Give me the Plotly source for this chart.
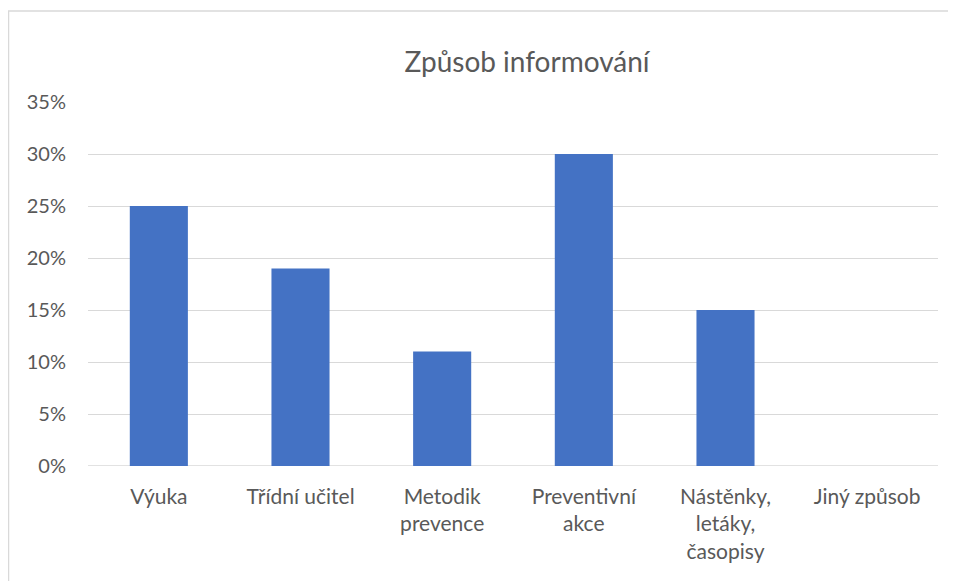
import plotly.graph_objects as go

categories = ["Výuka", "Třídní učitel", "Metodik<br>prevence", "Preventivní<br>akce",
              "Nástěnky,<br>letáky,<br>časopisy", "Jiný způsob"]
shares = [0.25, 0.19, 0.11, 0.30, 0.15, 0.0]
y_ticks = [0, 0.05, 0.10, 0.15, 0.20, 0.25, 0.30, 0.35]

text_grey = "#595959"
font_family = "Lato, 'Open Sans', sans-serif"

# the page body adds 8px, so the plot box is set 8px up and left of the target
fig = go.Figure(go.Bar(
    x=categories,
    y=shares,
    marker=dict(color="#4472C4", line=dict(width=0)),
    width=0.41,
))

fig.update_layout(
    width=956,
    height=581,
    margin=dict(l=80, r=26, t=94, b=123),
    plot_bgcolor="white",
    paper_bgcolor="white",
    showlegend=False,
    font=dict(family=font_family, color=text_grey, size=21),
    title=dict(text="Způsob informování", x=0.5165, xref="paper", xanchor="center",
               y=1 - 54 / 581, yanchor="middle",
               font=dict(size=28, color=text_grey, family=font_family)),
    xaxis=dict(showgrid=False, showline=False, ticks="", ticklabelstandoff=16,
               tickfont=dict(size=21, color=text_grey)),
    yaxis=dict(range=[0, 0.35], tickvals=y_ticks, tickformat=".0%",
               gridcolor="#d9d9d9", gridwidth=1.3, zeroline=False, showline=False,
               ticks="", ticklabelstandoff=21, tickfont=dict(size=20, color=text_grey)),
    shapes=[
        dict(type="line", xref="paper", yref="paper", x0=-79.5 / 850, x1=-79.5 / 850,
             y0=-0.5, y1=455 / 364, line=dict(color="#d9d9d9", width=1.5)),
        dict(type="line", xref="paper", yref="paper", x0=-80 / 850, x1=1.1,
             y0=455 / 364, y1=455 / 364, line=dict(color="#d9d9d9", width=1.5)),
        dict(type="line", xref="paper", yref="y", x0=0, x1=1, y0=0, y1=0,
             line=dict(color="#d9d9d9", width=1.3), layer="below"),
    ],
)

fig.write_html("out.html")
